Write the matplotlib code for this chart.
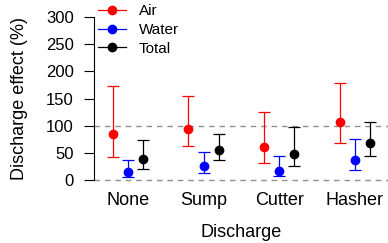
import matplotlib
matplotlib.use('Agg')
import matplotlib.pyplot as plt
from matplotlib.lines import Line2D
import numpy as np

# discharge effect (%) per discharge type, point estimate with lower/upper bounds
categories = ['None', 'Sump', 'Cutter', 'Hasher']

air = [84, 94, 61, 107]
air_lo = [43, 62, 31, 69]
air_hi = [173, 155, 126, 179]

water = [15, 26, 17, 37]
water_lo = [6, 13, 7, 18]
water_hi = [37, 52, 44, 76]

total = [39, 56, 47, 69]
total_lo = [21, 36, 26, 44]
total_hi = [74, 85, 98, 106]

series = [('Air', air, air_lo, air_hi, '#ff0000', -0.2),
          ('Water', water, water_lo, water_hi, '#0000ff', 0.0),
          ('Total', total, total_lo, total_hi, '#000000', 0.2)]

plt.rcParams['font.family'] = ['Liberation Sans', 'DejaVu Sans']

fig = plt.figure(figsize=(3.88, 2.43), dpi=100)
ax = fig.add_axes([94 / 388, 0.2325, 1 - 94 / 388, 0.7243])

# reference lines at 0 and 100
for level in [0, 100]:
    ax.axhline(level, color='#909090', lw=1.0, linestyle=(0, (4, 3.5)), zorder=1)

x = np.arange(1, len(categories) + 1)
handles = []
for name, vals, lo, hi, col, off in series:
    vals = np.array(vals)
    yerr = [vals - np.array(lo), np.array(hi) - vals]
    ax.errorbar(x + off, vals, yerr=yerr, fmt='o', color=col, ecolor=col,
                markersize=6, elinewidth=0.9, capsize=4, capthick=0.9, zorder=3)
    handles.append(Line2D([0], [0], color=col, lw=0.9, marker='o', markersize=6))

ax.set_xlim(0.55, 4.44)
ax.set_ylim(-12, 312)
ax.set_xticks(x)
ax.set_xticklabels(categories, fontsize=13)
ax.set_yticks(np.arange(0, 301, 50))
ax.tick_params(axis='x', length=0, pad=4)
ax.tick_params(axis='y', length=7.5, width=0.8, pad=7, labelsize=12)

for s in ['top', 'right', 'bottom']:
    ax.spines[s].set_visible(False)
ax.spines['left'].set_bounds(0, 300)
ax.spines['left'].set_linewidth(0.8)

ax.set_xlabel('Discharge', fontsize=13, labelpad=11)
ax.set_ylabel('Discharge effect (%)', fontsize=13, labelpad=13)

ax.legend(handles, ['Air', 'Water', 'Total'], loc='upper left',
          bbox_to_anchor=(4 / 294, 1.035), frameon=False, fontsize=11,
          handlelength=1.85, handletextpad=0.8, labelspacing=0.3,
          borderpad=0, borderaxespad=0)

plt.savefig('out.png', dpi=100)
